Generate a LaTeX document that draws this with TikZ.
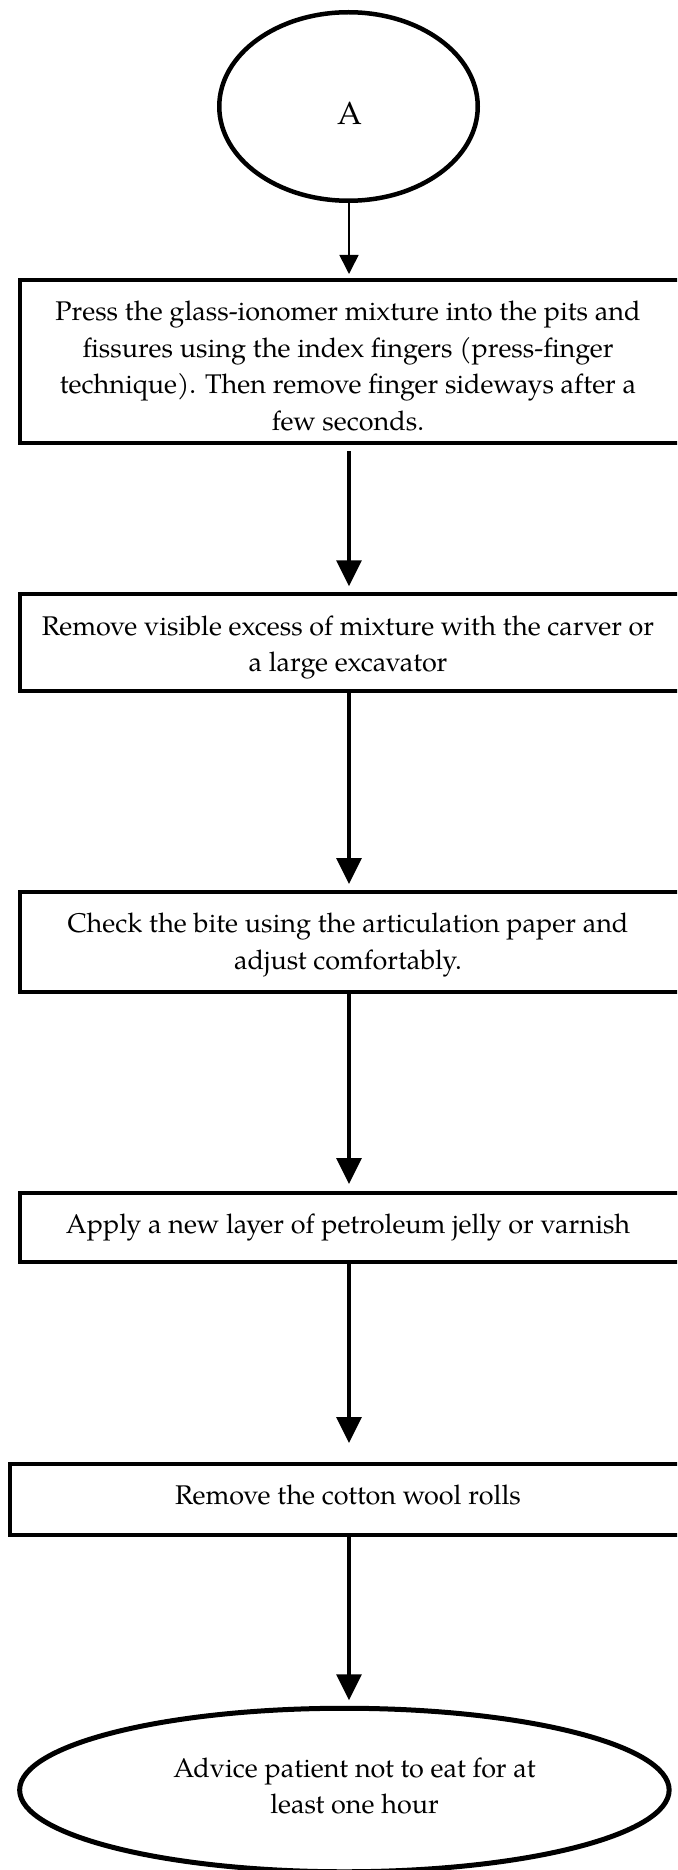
\documentclass[tikz,border=0pt]{standalone}
\usepackage{fontspec}
\setmainfont{TeX Gyre Pagella}
\usetikzlibrary{arrows.meta,shapes.geometric}
\newcommand{\boxtxt}[4]{\parbox{#1}{\centering\vspace*{#2}#4\par\vspace*{#3}}\hspace*{60pt}}
\begin{document}
\begin{tikzpicture}[x=1pt,y=-1pt,
  every node/.style={font=\fontsize{27}{36.5}\selectfont, inner sep=0pt, outer sep=0pt},
  stepbox/.style={draw, line width=4pt, rectangle, anchor=west, minimum height=#1},
  oval/.style={draw, ellipse, line width=#1},
  arr/.style={line width=3.5pt, -{Triangle[width=25pt,length=26pt]}},
  arrthin/.style={line width=1.6pt, -{Triangle[width=19pt,length=19pt]}}
]
\useasboundingbox (0,0) rectangle (677,1870);
\clip (0,0) rectangle (677,1870);
\coordinate (col) at (349,0);

\node[oval=4.5pt, minimum width=258.5pt, minimum height=188.5pt] (ea) at (348.5,106.5) {};
\node[font=\fontsize{32}{36}\selectfont] (ta) at (350,113.5) {A};

\node[stepbox=163pt] (b1) at (19.5,361.5) {\boxtxt{657pt}{9.4pt}{0pt}{Press the glass-ionomer mixture into the pits and\\ fissures using the index fingers (press-finger\\ technique). Then remove finger sideways after a\\ few seconds.}};

\node[stepbox=96.5pt] (b2) at (19.5,642.5) {\boxtxt{657pt}{10pt}{0pt}{Remove visible excess of mixture with the carver or\\ a large excavator}};

\node[stepbox=100pt] (b3) at (19.5,942) {\boxtxt{657pt}{6pt}{0pt}{Check the bite using the articulation paper and\\ adjust comfortably.}};

\node[stepbox=69pt] (b4) at (19.5,1227.5) {\boxtxt{657pt}{0pt}{0pt}{Apply a new layer of petroleum jelly or varnish}};

\node[stepbox=71pt] (b5) at (9.5,1499.5) {\boxtxt{677pt}{0pt}{9.6pt}{Remove the cotton wool rolls}};

\node[oval=5pt, minimum width=649.5pt, minimum height=163.5pt] (eb) at (344.4,1790) {};
\node[align=center, font=\fontsize{27}{36}\selectfont] (tb) at (354.5,1786) {Advice patient not to eat for at\\ least one hour};

\draw[arrthin, shorten >=6pt] (ea.south -| col) -- (b1.north -| col);
\draw[arr, shorten <=8pt, shorten >=8pt] (b1.south -| col) -- (b2.north -| col);
\draw[arr, shorten >=8pt] (b2.south -| col) -- (b3.north -| col);
\draw[arr, shorten >=9pt] (b3.south -| col) -- (b4.north -| col);
\draw[arr, shorten >=21pt] (b4.south -| col) -- (b5.north -| col);
\draw[arr, shorten >=8pt] (b5.south -| col) -- (eb.north -| col);
\end{tikzpicture}
\end{document}
